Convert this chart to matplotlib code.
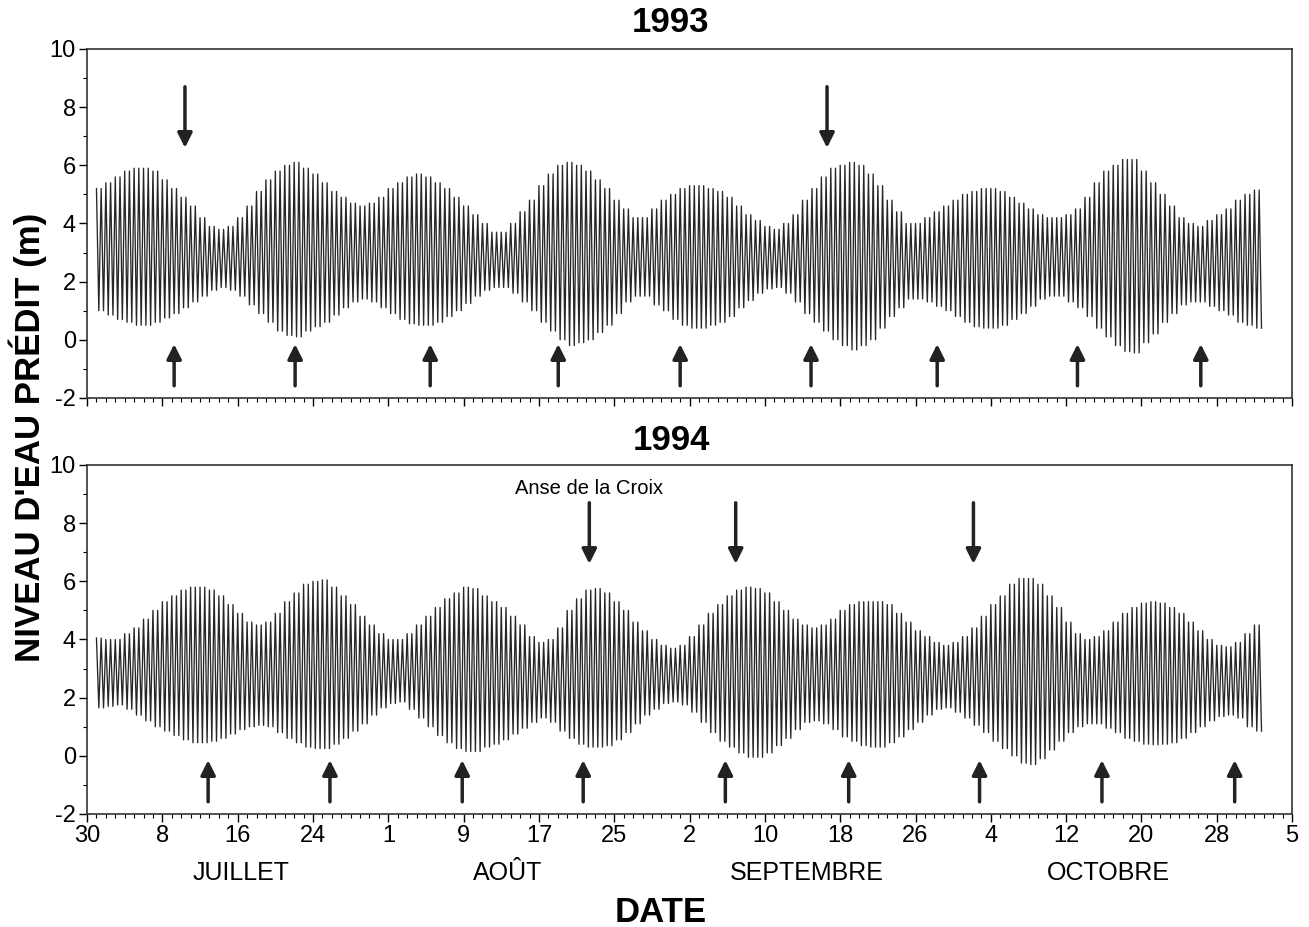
import numpy as np
import matplotlib
matplotlib.use('Agg')
import matplotlib.pyplot as plt
from matplotlib.ticker import MultipleLocator

plt.rcParams['font.family'] = ['Liberation Sans', 'DejaVu Sans']
plt.rcParams['axes.unicode_minus'] = False

# days counted from 30 June (day 0) to 5 November (day 128)
days = np.arange(1, 125)

# daily high / low predicted water level (m)
high_1993 = [5.2, 5.4, 5.6, 5.8, 5.9, 5.9, 5.8, 5.5, 5.2, 4.9,
             4.6, 4.2, 3.9, 3.8, 3.9, 4.2, 4.6, 5.1, 5.5, 5.8,
             6.0, 6.1, 5.9, 5.7, 5.4, 5.1, 4.9, 4.7, 4.6, 4.7,
             4.9, 5.2, 5.4, 5.6, 5.7, 5.6, 5.4, 5.2, 4.9, 4.6,
             4.3, 4.0, 3.7, 3.7, 4.0, 4.4, 4.8, 5.3, 5.7, 6.0,
             6.1, 6.0, 5.8, 5.5, 5.2, 4.8, 4.5, 4.2, 4.2, 4.5,
             4.8, 5.0, 5.2, 5.3, 5.3, 5.2, 5.1, 4.9, 4.6, 4.3,
             4.1, 3.9, 3.8, 4.0, 4.3, 4.8, 5.2, 5.6, 5.9, 6.0,
             6.1, 6.0, 5.7, 5.3, 4.8, 4.4, 4.0, 4.0, 4.2, 4.4,
             4.6, 4.8, 5.0, 5.1, 5.2, 5.2, 5.1, 4.9, 4.7, 4.5,
             4.3, 4.2, 4.2, 4.3, 4.5, 4.9, 5.4, 5.8, 6.0, 6.2,
             6.2, 5.8, 5.4, 5.0, 4.6, 4.2, 4.0, 3.9, 4.1, 4.3,
             4.5, 4.8, 5.0, 5.15]
low_1993 = [1.0, 0.85, 0.7, 0.6, 0.5, 0.5, 0.6, 0.75, 0.9, 1.1,
            1.3, 1.5, 1.7, 1.8, 1.7, 1.5, 1.2, 0.9, 0.6, 0.3,
            0.15, 0.1, 0.3, 0.45, 0.6, 0.85, 1.1, 1.3, 1.4, 1.3,
            1.1, 0.9, 0.7, 0.55, 0.5, 0.5, 0.6, 0.8, 1.0, 1.25,
            1.5, 1.7, 1.8, 1.8, 1.6, 1.3, 1.0, 0.6, 0.3, 0.0,
            -0.2, -0.1, 0.0, 0.25, 0.5, 0.9, 1.3, 1.5, 1.5, 1.2,
            1.0, 0.7, 0.5, 0.4, 0.4, 0.5, 0.6, 0.8, 1.1, 1.35,
            1.6, 1.75, 1.8, 1.6, 1.3, 0.9, 0.6, 0.3, 0.0, -0.2,
            -0.35, -0.2, 0.0, 0.4, 0.8, 1.1, 1.4, 1.4, 1.3, 1.15,
            1.0, 0.8, 0.6, 0.45, 0.4, 0.4, 0.5, 0.7, 0.9, 1.15,
            1.4, 1.5, 1.5, 1.3, 1.1, 0.8, 0.4, 0.1, -0.2, -0.4,
            -0.45, -0.1, 0.2, 0.6, 0.9, 1.2, 1.3, 1.3, 1.15, 1.0,
            0.85, 0.6, 0.5, 0.4]

high_1994 = [4.05, 4.0, 4.0, 4.2, 4.4, 4.7, 5.0, 5.3, 5.5, 5.7,
             5.8, 5.8, 5.7, 5.5, 5.2, 4.9, 4.6, 4.5, 4.6, 4.9,
             5.3, 5.6, 5.9, 6.0, 6.05, 5.8, 5.5, 5.2, 4.8, 4.5,
             4.2, 4.0, 4.0, 4.2, 4.5, 4.8, 5.1, 5.4, 5.6, 5.8,
             5.75, 5.5, 5.3, 5.1, 4.8, 4.5, 4.1, 3.9, 4.0, 4.4,
             5.0, 5.4, 5.7, 5.75, 5.6, 5.3, 5.0, 4.6, 4.3, 4.0,
             3.8, 3.7, 3.8, 4.1, 4.5, 4.9, 5.2, 5.5, 5.7, 5.8,
             5.75, 5.6, 5.3, 5.0, 4.7, 4.5, 4.4, 4.5, 4.7, 5.0,
             5.2, 5.3, 5.3, 5.3, 5.2, 4.9, 4.6, 4.3, 4.1, 3.9,
             3.8, 3.9, 4.1, 4.4, 4.8, 5.2, 5.5, 5.9, 6.1, 6.1,
             5.9, 5.5, 5.1, 4.6, 4.2, 4.0, 4.1, 4.3, 4.6, 4.9,
             5.1, 5.25, 5.3, 5.25, 5.1, 4.9, 4.6, 4.3, 4.0, 3.8,
             3.75, 3.9, 4.2, 4.5]
low_1994 = [1.65, 1.7, 1.75, 1.6, 1.4, 1.2, 1.0, 0.85, 0.7, 0.55,
            0.45, 0.45, 0.5, 0.6, 0.75, 0.9, 1.0, 1.05, 1.0, 0.8,
            0.6, 0.45, 0.3, 0.25, 0.25, 0.4, 0.6, 0.85, 1.1, 1.4,
            1.65, 1.8, 1.85, 1.6, 1.3, 1.0, 0.7, 0.45, 0.25, 0.15,
            0.15, 0.3, 0.4, 0.55, 0.75, 0.95, 1.15, 1.3, 1.15, 0.85,
            0.6, 0.4, 0.3, 0.3, 0.35, 0.55, 0.8, 1.1, 1.4, 1.6,
            1.8, 1.85, 1.75, 1.5, 1.15, 0.8, 0.5, 0.3, 0.1, -0.05,
            -0.05, 0.1, 0.35, 0.6, 0.9, 1.15, 1.2, 1.1, 0.9, 0.65,
            0.5, 0.35, 0.3, 0.3, 0.45, 0.65, 0.9, 1.15, 1.4, 1.6,
            1.65, 1.5, 1.3, 1.05, 0.8, 0.5, 0.25, 0.0, -0.25, -0.3,
            -0.1, 0.2, 0.5, 0.8, 1.0, 1.1, 1.1, 0.95, 0.8, 0.6,
            0.5, 0.4, 0.38, 0.4, 0.45, 0.6, 0.8, 1.0, 1.2, 1.35,
            1.4, 1.3, 1.0, 0.85]

# arrow positions (day) for each panel
down_1993 = [10.4, 78.6]
up_1993 = [9.25, 22.1, 36.45, 50.05, 63.0, 76.9, 90.3, 105.2, 118.3]
down_1994 = [53.35, 68.9, 94.15]
up_1994 = [12.86, 25.8, 39.85, 52.7, 67.8, 80.9, 94.8, 107.8, 121.9]

tick_days = np.arange(0, 129, 8)
tick_labels = ['30', '8', '16', '24', '1', '9', '17', '25', '2',
               '10', '18', '26', '4', '12', '20', '28', '5']
months = ['JUILLET', 'AOÛT', 'SEPTEMBRE', 'OCTOBRE']
month_pos = [16.4, 44.7, 76.4, 108.5]


def tide_line(ax, hi, lo):
    # two tides a day: high, low, high, low
    n = len(days)
    x = np.repeat(days, 4) + np.tile([0.0, 0.25, 0.5, 0.75], n)
    y = np.column_stack([hi, lo, hi, lo]).ravel()
    ax.plot(x, y, color='#262626', lw=0.95)


def arrows(ax, down, up):
    for d in down:
        ax.annotate('', xy=(d, 6.6), xytext=(d, 8.7),
                    arrowprops=dict(arrowstyle='-|>', color='#222222', lw=2.5,
                                    mutation_scale=22, shrinkA=0, shrinkB=0))
    for d in up:
        ax.annotate('', xy=(d, -0.15), xytext=(d, -1.58),
                    arrowprops=dict(arrowstyle='-|>', color='#222222', lw=2.5,
                                    mutation_scale=22, shrinkA=0, shrinkB=0))


def style(ax):
    ax.set_xlim(0, 128)
    ax.set_ylim(-2, 10)
    ax.set_xticks(tick_days)
    ax.xaxis.set_minor_locator(MultipleLocator(1))
    ax.yaxis.set_major_locator(MultipleLocator(2))
    ax.yaxis.set_minor_locator(MultipleLocator(1))
    ax.tick_params(which='major', length=6, width=1.0, labelsize=17, pad=2)
    ax.tick_params(which='minor', length=3, width=0.8)
    for s in ax.spines.values():
        s.set_linewidth(1.2)
        s.set_color('#333333')


fig = plt.figure(figsize=(13.09, 9.27), dpi=100)
ax1 = fig.add_axes([0.0665, 0.5707, 0.9206, 0.3765])
ax2 = fig.add_axes([0.0665, 0.1219, 0.9206, 0.3765])

tide_line(ax1, high_1993, low_1993)
arrows(ax1, down_1993, up_1993)
style(ax1)
ax1.set_xticklabels([])

tide_line(ax2, high_1994, low_1994)
arrows(ax2, down_1994, up_1994)
style(ax2)
ax2.set_xticklabels(tick_labels)
ax2.text(53.35, 9.2, 'Anse de la Croix', ha='center', va='center', fontsize=14.5)

for m, p in zip(months, month_pos):
    ax2.text(p, -0.17, m, transform=ax2.get_xaxis_transform(),
             ha='center', va='center', fontsize=18)

fig.text(671 / 1309, 1 - 22 / 927, '1993', ha='center', va='center',
         fontsize=25, fontweight='bold')
fig.text(671 / 1309, 1 - 440 / 927, '1994', ha='center', va='center',
         fontsize=25, fontweight='bold')
fig.text(661 / 1309, 1 - 913 / 927, 'DATE', ha='center', va='center',
         fontsize=25, fontweight='bold')
fig.text(28 / 1309, 1 - 437 / 927, "NIVEAU D'EAU PRÉDIT (m)", ha='center',
         va='center', rotation=90, fontsize=25, fontweight='bold')

fig.savefig('out.png', dpi=100)
